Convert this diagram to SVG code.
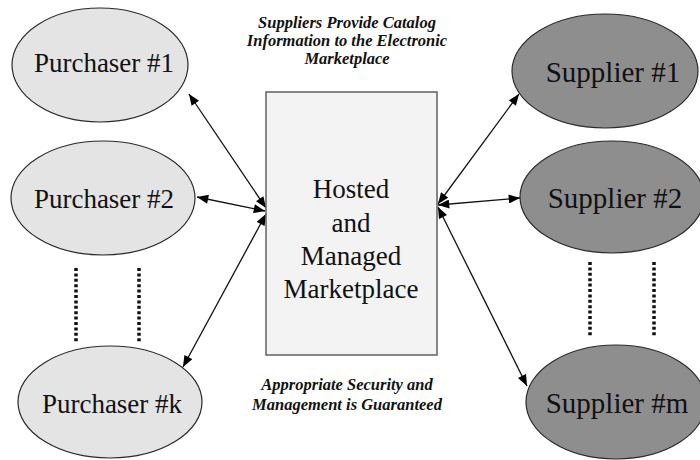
<svg xmlns="http://www.w3.org/2000/svg" width="700" height="460" viewBox="0 0 700 460">
  <defs>
    <marker id="head" viewBox="0 0 10 8" refX="10" refY="4" markerWidth="12" markerHeight="9" markerUnits="userSpaceOnUse" orient="auto-start-reverse">
      <path d="M0,0 L10,4 L0,8 z" fill="#000"/>
    </marker>
    <style>
      .bg { fill: #ffffff; }
      .buyer { fill: #e4e4e4; stroke: #2a2a2a; stroke-width: 1.2; }
      .seller { fill: #8e8e8e; stroke: #2a2a2a; stroke-width: 1.2; }
      .hub { fill: #f3f3f3; stroke: #6a6a6a; stroke-width: 1.6; }
      .label { font-family: "Liberation Serif", "Times New Roman", serif; font-size: 27px; fill: #111; text-anchor: middle; }
      .big { font-size: 29px; }
      .note { font-family: "Liberation Serif", "Times New Roman", serif; font-size: 16.5px; font-weight: bold; font-style: italic; fill: #111; text-anchor: middle; }
      .link { stroke: #111; stroke-width: 1.3; fill: none; marker-start: url(#head); marker-end: url(#head); }
      .dots { stroke: #111; stroke-width: 3.5; stroke-dasharray: 3 2.4; }
    </style>
  </defs>

  <rect class="bg" x="0" y="0" width="700" height="460"/>

  <!-- captions -->
  <g id="caption-top">
    <text class="note" x="347" y="28">Suppliers Provide Catalog</text>
    <text class="note" x="347" y="46">Information to the Electronic</text>
    <text class="note" x="347" y="64">Marketplace</text>
  </g>
  <g id="caption-bottom">
    <text class="note" x="347" y="390">Appropriate Security and</text>
    <text class="note" x="347" y="410">Management is Guaranteed</text>
  </g>

  <!-- connectors -->
  <g id="connectors">
    <line class="link" x1="189" y1="94" x2="266" y2="208"/>
    <line class="link" x1="197" y1="197" x2="265" y2="211"/>
    <line class="link" x1="266" y1="214" x2="183" y2="367"/>
    <line class="link" x1="438" y1="204" x2="519" y2="94"/>
    <line class="link" x1="438" y1="205" x2="520" y2="198"/>
    <line class="link" x1="438" y1="207" x2="527" y2="386"/>
    <line class="dots" x1="76" y1="268" x2="76" y2="343"/>
    <line class="dots" x1="139" y1="268" x2="139" y2="343"/>
    <line class="dots" x1="590" y1="262" x2="590" y2="336"/>
    <line class="dots" x1="654" y1="262" x2="654" y2="336"/>
  </g>

  <!-- marketplace hub -->
  <g id="marketplace">
    <rect class="hub" x="266" y="92" width="171" height="263"/>
    <text class="label" x="351" y="198">Hosted</text>
    <text class="label" x="351" y="232">and</text>
    <text class="label" x="351" y="265">Managed</text>
    <text class="label" x="351" y="298">Marketplace</text>
  </g>

  <!-- purchasers -->
  <g id="purchaser-1">
    <ellipse class="buyer" cx="100" cy="65" rx="88" ry="57"/>
    <text class="label" x="104" y="72">Purchaser #1</text>
  </g>
  <g id="purchaser-2">
    <ellipse class="buyer" cx="103" cy="198" rx="92" ry="57"/>
    <text class="label" x="104" y="208">Purchaser #2</text>
  </g>
  <g id="purchaser-k">
    <ellipse class="buyer" cx="110" cy="402" rx="92" ry="56"/>
    <text class="label" x="112" y="413">Purchaser #k</text>
  </g>

  <!-- suppliers -->
  <g id="supplier-1">
    <ellipse class="seller" cx="605" cy="71" rx="93" ry="57"/>
    <text class="label big" x="613" y="82">Supplier #1</text>
  </g>
  <g id="supplier-2">
    <ellipse class="seller" cx="612" cy="197" rx="92" ry="56"/>
    <text class="label big" x="615" y="208">Supplier #2</text>
  </g>
  <g id="supplier-m">
    <ellipse class="seller" cx="616" cy="402" rx="90" ry="57"/>
    <text class="label big" x="617" y="413">Supplier #m</text>
  </g>
</svg>
